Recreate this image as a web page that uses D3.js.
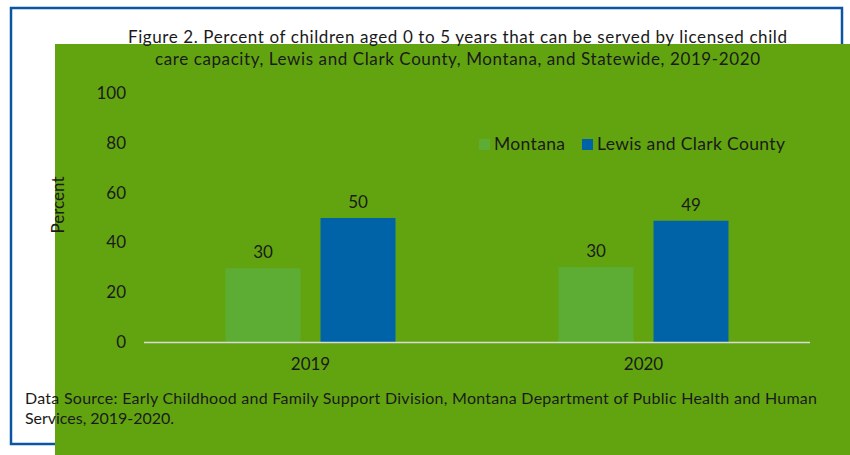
<!DOCTYPE html>
<html><head><meta charset="utf-8">
<script src="https://cdn.jsdelivr.net/npm/d3@7/dist/d3.min.js"></script>
<style>
html,body{margin:0;padding:0;background:#fff;}
svg{display:block;font-family:Lato,"Open Sans",sans-serif;}
</style></head>
<body>
<svg id="c" width="850" height="455"></svg>
<script>
const categories = ["2019", "2020"];
const seriesNames = ["Montana", "Lewis and Clark County"];
const montanaValues = [29.6, 30.1];
const lewisClarkValues = [49.8, 48.7];
const yTicks = [0, 20, 40, 60, 80, 100];
const titleLines = ["Figure 2. Percent of children aged 0 to 5 years that can be served by licensed child",
                    "care capacity, Lewis and Clark County, Montana, and Statewide, 2019-2020"];
const sourceLines = ["Data Source: Early Childhood and Family Support Division, Montana Department of Public Health and Human",
                     "Services, 2019-2020."];
const yLabel = "Percent";

const colors = {"Montana": "#5dad35", "Lewis and Clark County": "#0063a8"};
const svg = d3.select("#c");

// background pieces
svg.append("rect").attr("x", 11).attr("y", 8).attr("width", 831).attr("height", 436)
  .attr("fill", "#fff").attr("stroke", "#0b55a3").attr("stroke-width", 2.5);
svg.append("rect").attr("x", 55).attr("y", 44).attr("width", 795).attr("height", 411).attr("fill", "#62a40f");

const y = d3.scaleLinear().domain([0, 100]).range([342, 93]);
const x0 = d3.scaleBand().domain(categories).range([144, 810]);
const x1 = d3.scaleBand().domain(seriesNames).range([0, 170]).paddingInner(2 - 170 / 95);

const data = categories.map((c, i) => ({cat: c, vals: [
  {s: seriesNames[0], v: montanaValues[i]},
  {s: seriesNames[1], v: lewisClarkValues[i]}]}));

// title
const titleW = [659, 605];
svg.append("g").selectAll("text").data(titleLines).join("text")
  .attr("x", 457.5).attr("y", (d, i) => 43 + i * 22).attr("text-anchor", "middle")
  .attr("font-size", 17).attr("fill", "#1a1a1a")
  .attr("textLength", (d, i) => titleW[i]).attr("lengthAdjust", "spacing").text(d => d);

// y axis labels
svg.append("g").selectAll("text").data(yTicks).join("text")
  .attr("x", 126).attr("y", d => y(d)).attr("dy", "0.35em").attr("text-anchor", "end")
  .attr("font-size", 17).attr("fill", "#1a1a1a").text(d => d);

svg.append("text").attr("transform", "translate(64,205) rotate(-90)").attr("text-anchor", "middle")
  .attr("font-size", 17).attr("fill", "#1a1a1a").text(yLabel);

// bars
const groups = svg.append("g").selectAll("g").data(data).join("g")
  .attr("transform", d => `translate(${x0(d.cat) + x0.bandwidth() / 2 - 85},0)`);
groups.selectAll("rect").data(d => d.vals).join("rect")
  .attr("x", d => x1(d.s)).attr("width", x1.bandwidth())
  .attr("y", d => y(d.v)).attr("height", d => y(0) - y(d.v))
  .attr("fill", d => colors[d.s]);
groups.selectAll("text").data(d => d.vals).join("text")
  .attr("x", d => x1(d.s) + x1.bandwidth() / 2).attr("y", d => y(d.v) - 10)
  .attr("text-anchor", "middle").attr("font-size", 17).attr("fill", "#1a1a1a")
  .text(d => d3.format(".0f")(d.v));

// x axis
svg.append("line").attr("x1", 144).attr("x2", 810).attr("y1", y(0) + 0.5).attr("y2", y(0) + 0.5)
  .attr("stroke", "#d9d9d9").attr("stroke-width", 1.5);
svg.append("g").selectAll("text").data(categories).join("text")
  .attr("x", d => x0(d) + x0.bandwidth() / 2).attr("y", 370).attr("text-anchor", "middle")
  .attr("font-size", 17).attr("fill", "#1a1a1a").text(d => d);

// legend
const legX = [479, 582];
const legW = [71, 188];
const leg = svg.append("g").selectAll("g").data(seriesNames).join("g")
  .attr("transform", (d, i) => `translate(${legX[i]},139)`);
leg.append("rect").attr("width", 11).attr("height", 11).attr("fill", d => colors[d]);
leg.append("text").attr("x", 15).attr("y", 11).attr("font-size", 17.5).attr("fill", "#1a1a1a")
  .attr("textLength", (d, i) => legW[i]).attr("lengthAdjust", "spacing").text(d => d);

// source
const srcW = [792, 149];
svg.append("g").selectAll("text").data(sourceLines).join("text")
  .attr("x", 25).attr("y", (d, i) => 404 + i * 20).attr("font-size", 16).attr("fill", "#1a1a1a")
  .attr("textLength", (d, i) => srcW[i]).attr("lengthAdjust", "spacing").text(d => d);
</script>
</body></html>
